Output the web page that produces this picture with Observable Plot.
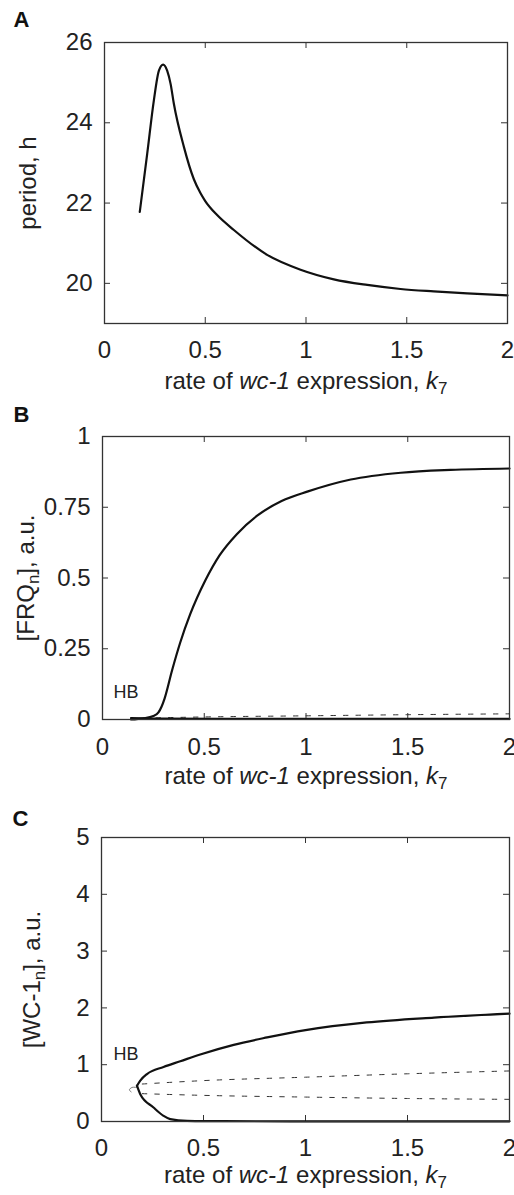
<!DOCTYPE html>
<html><head><meta charset="utf-8">
<script src="https://cdn.jsdelivr.net/npm/d3@7"></script>
<script src="https://cdn.jsdelivr.net/npm/@observablehq/plot@0.6"></script>
<style>body{margin:0;background:#fff;} #chart svg{display:block;}</style>
</head><body><div id="chart"></div>
<script>
// ---- tick values ----
const xTicks = [0, 0.5, 1, 1.5, 2];
const periodTicks = [20, 22, 24, 26];
const frqTicks = [0, 0.25, 0.5, 0.75, 1];
const wcTicks = [0, 1, 2, 3, 4, 5];

// ---- Panel A: period vs k7 ----
const periodK7 = [0.175, 0.212, 0.245, 0.27, 0.291, 0.311, 0.328, 0.344, 0.394, 0.443, 0.476, 0.5, 0.559, 0.642, 0.807, 0.973, 1.138, 1.304, 1.469, 1.634, 1.80, 2.0];
const periodH  = [21.78, 23.23, 24.56, 25.30, 25.45, 25.30, 24.97, 24.48, 23.40, 22.60, 22.25, 22.05, 21.70, 21.33, 20.71, 20.34, 20.10, 19.96, 19.86, 19.80, 19.75, 19.70];

// ---- Panel B: [FRQn] ----
const frqMaxK7  = [0.14, 0.2, 0.25, 0.275, 0.29, 0.305, 0.342, 0.382, 0.431, 0.505, 0.575, 0.66, 0.76, 0.88, 1.01, 1.22, 1.466, 1.71, 2.0];
const frqMaxVal = [0.0, 0.004, 0.012, 0.025, 0.045, 0.074, 0.174, 0.272, 0.372, 0.491, 0.58, 0.655, 0.72, 0.772, 0.806, 0.848, 0.872, 0.882, 0.887];
const frqMinK7  = [0.14, 0.3, 1.0, 2.0];
const frqMinVal = [0.005, 0.003, 0.002, 0.002];
const frqSsK7   = [0.14, 0.5, 1.0, 1.5, 2.0];
const frqSsVal  = [0.004, 0.009, 0.013, 0.017, 0.02];

// ---- Panel C: [WC-1n] ----
const wcMaxK7  = [0.174, 0.19, 0.223, 0.304, 0.386, 0.484, 0.648, 0.812, 1.0, 1.30, 1.63, 2.0];
const wcMaxVal = [0.63, 0.72, 0.835, 0.96, 1.06, 1.18, 1.35, 1.48, 1.61, 1.745, 1.83, 1.90];
const wcMinK7  = [0.174, 0.19, 0.255, 0.304, 0.337, 0.42, 0.6, 1.0, 2.0];
const wcMinVal = [0.63, 0.48, 0.247, 0.1, 0.042, 0.012, 0.005, 0.003, 0.003];
const wcUnsHiK7  = [0.2, 0.5, 1.0, 1.5, 2.0];
const wcUnsHiVal = [0.66, 0.72, 0.78, 0.84, 0.89];
const wcUnsLoK7  = [0.2, 0.5, 1.0, 1.5, 2.0];
const wcUnsLoVal = [0.49, 0.46, 0.43, 0.405, 0.39];
const wcHookK7  = [0.176, 0.15, 0.137, 0.145];
const wcHookVal = [0.60, 0.60, 0.56, 0.52];

// ---- annotations / labels ----
const xLabel = "rate of wc-1 expression, k7";
const xLabelParts = [["rate of ", ""], ["wc-1", "i"], [" expression, ", ""], ["k", "i"], ["7", "sub"]];
const yLabelA = "period, h";
const yLabelB = "[FRQn], a.u.";
const yLabelBParts = [["[FRQ", ""], ["n", "sub"], ["], a.u.", "up"]];
const yLabelC = "[WC-1n], a.u.";
const yLabelCParts = [["[WC-1", ""], ["n", "sub"], ["], a.u.", "up"]];
const hbB = [{x: 0.054, y: 0.096, t: "HB"}];
const hbC = [{x: 0.059, y: 1.19, t: "HB"}];

const zip = (xs, ys) => xs.map((x, i) => ({x, y: ys[i]}));

const solid = (d, curve = "monotone-x") => Plot.line(d, {x: "x", y: "y", stroke: "#111", strokeWidth: 2.2, curve});
const dashed = (d) => Plot.line(d, {x: "x", y: "y", stroke: "#333", strokeWidth: 1, strokeDasharray: "4.5,8", curve: "monotone-x"});

function richify(svg, plain, parts) {
  for (const t of svg.querySelectorAll("text")) {
    if (t.textContent === plain) {
      while (t.firstChild) t.removeChild(t.firstChild);
      for (const [s, kind] of parts) {
        const ts = document.createElementNS("http://www.w3.org/2000/svg", "tspan");
        ts.textContent = s;
        if (kind === "i") ts.setAttribute("font-style", "italic");
        if (kind === "sub") { ts.setAttribute("font-size", "17px"); ts.setAttribute("dy", "5px"); }
        if (kind === "up") ts.setAttribute("dy", "-5px");
        t.appendChild(ts);
      }
    }
  }
}

function panel(cfg) {
  const W = 514;
  const fh = cfg.height - cfg.mt - cfg.mb;
  const fw = W - cfg.ml - cfg.mr;
  const svg = Plot.plot({
    width: W, height: cfg.height,
    marginTop: cfg.mt, marginBottom: cfg.mb, marginLeft: cfg.ml, marginRight: cfg.mr,
    style: {fontFamily: "'Liberation Sans', Arial, Helvetica, sans-serif", fontSize: "24px", color: "#222", background: "#fff", overflow: "visible"},
    x: {domain: [0, 2]},
    y: {domain: cfg.yDomain},
    marks: [
      Plot.axisX(xTicks, {tickSize: 0, tickPadding: cfg.xPad, label: null, fontSize: 24, tickFormat: d => String(d)}),
      Plot.axisY(cfg.yTicks, {tickSize: 0, tickPadding: 12, label: null, fontSize: 24, tickFormat: d => String(d)}),
      Plot.ruleX(xTicks, {insetTop: fh - 6, stroke: "#333"}),
      Plot.ruleX(xTicks, {insetBottom: fh - 6, stroke: "#333"}),
      Plot.ruleY(cfg.yTicks, {insetRight: fw - 6, stroke: "#333"}),
      Plot.ruleY(cfg.yTicks, {insetLeft: fw - 6, stroke: "#333"}),
      ...cfg.lines,
      Plot.frame({stroke: "#333", strokeWidth: 1.3}),
      ...(cfg.hb ? [Plot.text(cfg.hb, {x: "x", y: "y", text: "t", textAnchor: "start", fontSize: 18, fill: "#222"})] : []),
      Plot.text([cfg.letter], {frameAnchor: "top-left", dx: cfg.letterDx, dy: cfg.letterDy, textAnchor: "start", lineAnchor: "bottom", fontWeight: "bold", fontSize: 22, fill: "#111"}),
      Plot.text([xLabel], {frameAnchor: "bottom", dy: cfg.xLabDy, textAnchor: "middle", lineAnchor: "bottom", fontSize: 24}),
      Plot.text([cfg.yLabel], {frameAnchor: "left", dx: cfg.yLabDx, rotate: -90, textAnchor: "middle", lineAnchor: "bottom", fontSize: 24})
    ]
  });
  richify(svg, xLabel, xLabelParts);
  if (cfg.yParts) richify(svg, cfg.yLabel, cfg.yParts);
  return svg;
}

const root = document.getElementById("chart");

root.appendChild(panel({
  height: 395, mt: 42, mb: 72, ml: 104, mr: 7,
  yDomain: [19, 26], yTicks: periodTicks, xPad: 17,
  letter: "A", letterDx: -91, letterDy: -16,
  xLabDy: 65, yLabel: yLabelA, yLabDx: -69,
  lines: [solid(zip(periodK7, periodH))]
}));

root.appendChild(panel({
  height: 395, mt: 41, mb: 71, ml: 102, mr: 5,
  yDomain: [0, 1], yTicks: frqTicks, xPad: 18,
  letter: "B", letterDx: -89, letterDy: -15,
  xLabDy: 64, yLabel: yLabelB, yParts: yLabelBParts, yLabDx: -69,
  hb: hbB,
  lines: [dashed(zip(frqSsK7, frqSsVal)), solid(zip(frqMinK7, frqMinVal)), solid(zip(frqMaxK7, frqMaxVal))]
}));

root.appendChild(panel({
  height: 405, mt: 47, mb: 74, ml: 101, mr: 5,
  yDomain: [0, 5], yTicks: wcTicks, xPad: 17,
  letter: "C", letterDx: -89, letterDy: -12,
  xLabDy: 61, yLabel: yLabelC, yParts: yLabelCParts, yLabDx: -62,
  hb: hbC,
  lines: [
    dashed(zip(wcUnsHiK7, wcUnsHiVal)),
    dashed(zip(wcUnsLoK7, wcUnsLoVal)),
    Plot.line(zip(wcHookK7, wcHookVal), {x: "x", y: "y", stroke: "#555", strokeWidth: 0.8, curve: "catmull-rom"}),
    solid(zip(wcMaxK7, wcMaxVal)),
    solid(zip(wcMinK7, wcMinVal))
  ]
}));
</script>
</body></html>
